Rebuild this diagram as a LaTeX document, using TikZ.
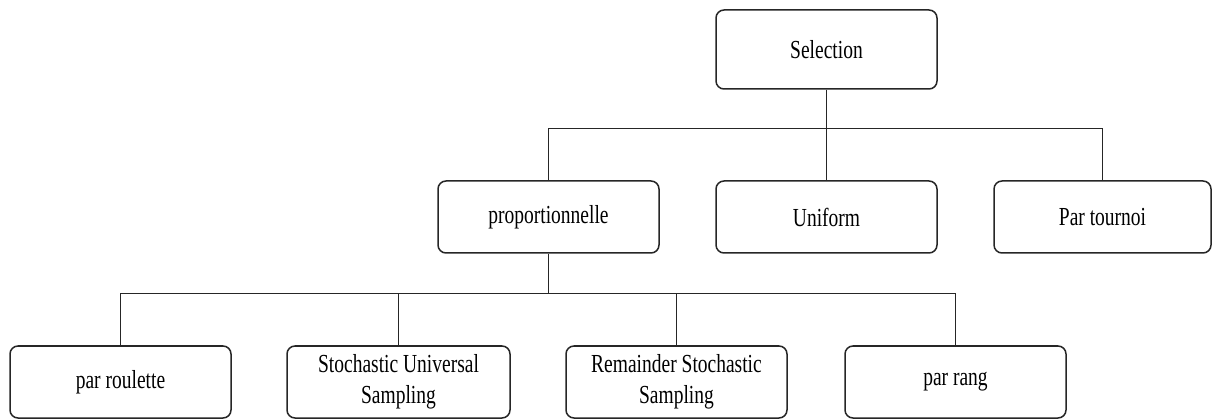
\documentclass[tikz,border=0pt]{standalone}
\usepackage{fontspec}
\setmainfont[FakeStretch=0.75]{Liberation Serif}
\begin{document}
\begin{tikzpicture}[x=1pt,y=-1pt,
  box/.style={draw=black!85, line width=1.5pt, rounded corners=8pt, fill=white,
    minimum width=221pt, minimum height=72pt, inner sep=0pt, align=center,
    font=\fontsize{26}{31}\selectfont},
  link/.style={draw=black!85, line width=1.5pt}]
  \useasboundingbox (0,0) rectangle (1212,419);

  % root
  \node[box, minimum height=79pt] (sel) at (826.5,49.5) {Selection};

  % second level
  \node[box] (prop) at (548.5,217) {proportionnelle};
  \node[box] (unif) at (826.5,217) {Uniform};
  \node[box, minimum width=217pt] (tour) at (1102.5,217) {Par tournoi};

  % third level
  \node[box] (roul) at (120.5,382) {par roulette};
  \node[box, minimum width=223pt] (sus) at (398.5,382) {Stochastic Universal\\Sampling};
  \node[box] (rss) at (676.5,382) {Remainder Stochastic\\Sampling};
  \node[box] (rang) at (955.5,382) {par rang};

  % bus heights
  \coordinate (topbus) at (0,128.5);
  \coordinate (lowbus) at (0,293.5);

  % Selection -> second level
  \draw[link] (sel.south) -- (sel.south |- topbus);
  \draw[link] (prop.north) |- (tour.north |- topbus) -- (tour.north);
  \draw[link] (unif.north) -- (unif.north |- topbus);

  % proportionnelle -> third level
  \draw[link] (prop.south) -- (prop.south |- lowbus);
  \draw[link] (roul.north) |- (rang.north |- lowbus) -- (rang.north);
  \draw[link] (sus.north) -- (sus.north |- lowbus);
  \draw[link] (rss.north) -- (rss.north |- lowbus);
\end{tikzpicture}
\end{document}
